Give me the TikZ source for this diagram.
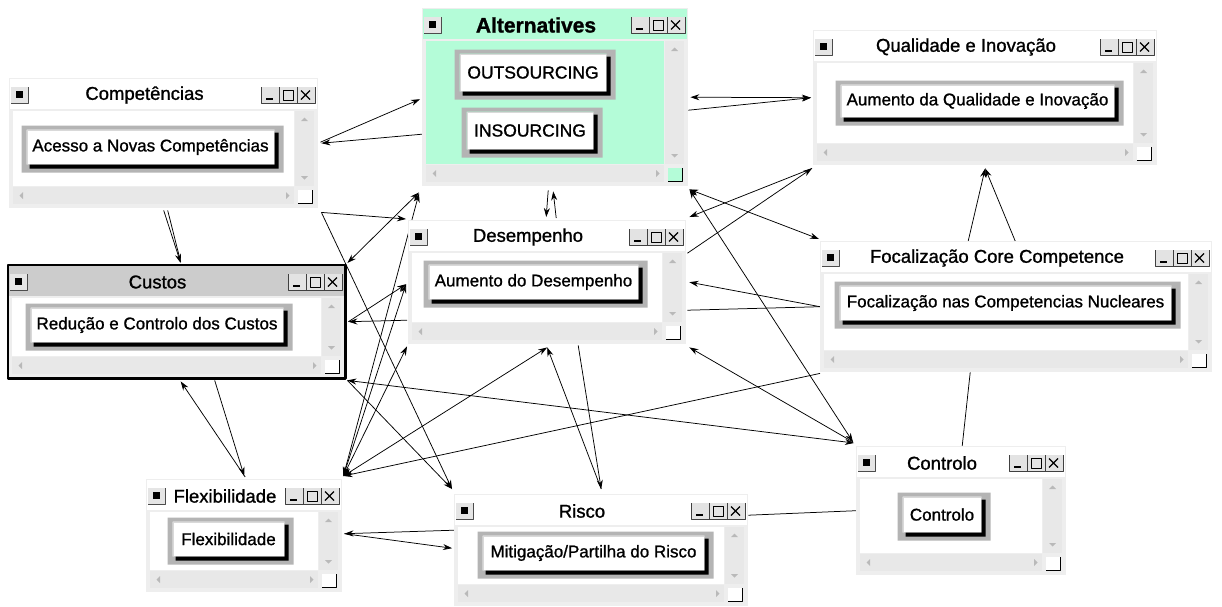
\documentclass[tikz,border=0pt]{standalone}
\usepackage{fontspec}
\setmainfont{Liberation Sans}
\newfontfamily\uifont{Liberation Sans}[FakeBold=1.1]
\usetikzlibrary{arrows.meta,calc}

\definecolor{winframe}{RGB}{238,238,238}
\definecolor{scrollbg}{RGB}{232,232,232}
\definecolor{mint}{RGB}{180,252,216}
\definecolor{selbar}{RGB}{204,204,204}
\definecolor{btnring}{RGB}{180,180,180}

% one node window: #1 name, #2 x, #3 y, #4 width, #5 height, #6 title, #7 bar, #8 body
\newcommand\uiwin[8]{%
  \begin{scope}[shift={(#2,#3)}]
    \node[inner sep=0pt,minimum width=#4pt,minimum height=#5pt,anchor=north west,
      fill=winframe] (#1) at (0,0) {};
    \fill[#7] (1,1) rectangle (#4-1,31);
    % menu icon
    \fill[gray!20] (2,9) rectangle (19,25);
    \draw[black!70] (2,25) -- (19,25) -- (19,9);
    \fill[black] (7,13) rectangle (14,20);
    % title
    \node[titletext] at ({(#4-38)/2},17) {#6};
    % min / max / close
    \fill[gray!22] (#4-57,9) rectangle (#4-3,25);
    \draw[black!75] (#4-57,9) -- (#4-57,25) -- (#4-3,25) -- (#4-3,9)
      (#4-39,9) -- (#4-39,25) (#4-21,9) -- (#4-21,25);
    \draw[line width=1.6pt] (#4-52,21) -- (#4-45,21);
    \draw[line width=1pt] (#4-35,12) rectangle (#4-25,22);
    \draw[line width=1.2pt] (#4-17,12.5) -- (#4-8,21.5) (#4-17,21.5) -- (#4-8,12.5);
    % body and scroll bars
    \fill[#8] (4,33) rectangle (#4-24,#5-22);
    \fill[scrollbg] (#4-23,33) rectangle (#4-4,#5-22);
    \fill[gray!55] (#4-17,43) -- (#4-10,43) -- (#4-13.5,39.5) -- cycle;
    \fill[gray!55] (#4-17,#5-32) -- (#4-10,#5-32) -- (#4-13.5,#5-28.5) -- cycle;
    \fill[scrollbg] (4,#5-21) rectangle (#4-24,#5-4);
    \fill[gray!55] (14,#5-16) -- (14,#5-9) -- (10.5,#5-12.5) -- cycle;
    \fill[gray!55] (#4-32,#5-16) -- (#4-32,#5-9) -- (#4-28.5,#5-12.5) -- cycle;
    \fill[#8] (#4-20,#5-18) rectangle (#4-6,#5-5);
    \draw[line width=1pt] (#4-20,#5-5) -- (#4-6,#5-5) -- (#4-6,#5-18);
  \end{scope}}

% raised state button: #1 name, #2 cx, #3 cy, #4 width, #5 height, #6 text
\newcommand\uibtn[6]{%
  \node[btnface,minimum width=#4pt,minimum height=#5pt] (#1) at (#2,#3) {#6};
  \fill[btnring,even odd rule] ($(#1.north west)+(-5,-4)$) rectangle ($(#1.south east)+(9,8)$)
    (#1.north west) rectangle (#1.south east);
  \fill[black] ($(#1.south west)+(3,0)$) -- ($(#1.south west)+(3,4)$) -- ($(#1.south east)+(4,4)$)
    -- ($(#1.north east)+(4,3)$) -- ($(#1.north east)+(0,3)$) -- (#1.south east) -- cycle;}

\begin{document}
\begin{tikzpicture}[x=1pt,y=-1pt,>={Stealth[length=9pt,width=6pt]},line join=round,
  link/.style={->,line width=0.75pt},
  both/.style={<->,line width=0.75pt},
  plain/.style={line width=0.75pt},
  titletext/.style={font=\uifont\fontsize{18.5}{20}\selectfont,inner sep=0pt},
  btnface/.style={fill=white,draw=gray!30,line width=1pt,inner sep=0pt,
    font=\uifont\fontsize{17}{19}\selectfont}]

  \useasboundingbox[fill=white] (0,0) rectangle (1222,606);

  % ===== windows are placed first only as named frames for the links =====
  \path (422,8) node[inner sep=0pt,minimum width=266pt,minimum height=178pt,anchor=north west] (alt) {}
        (9,78) node[inner sep=0pt,minimum width=309pt,minimum height=130pt,anchor=north west] (comp) {}
        (8,265) node[inner sep=0pt,minimum width=337pt,minimum height=113pt,anchor=north west] (cust) {}
        (408,220) node[inner sep=0pt,minimum width=278pt,minimum height=124pt,anchor=north west] (des) {}
        (813,30) node[inner sep=0pt,minimum width=344pt,minimum height=135pt,anchor=north west] (qual) {}
        (820,241) node[inner sep=0pt,minimum width=392pt,minimum height=131pt,anchor=north west] (foc) {}
        (146,479) node[inner sep=0pt,minimum width=196pt,minimum height=113pt,anchor=north west] (flex) {}
        (454,494) node[inner sep=0pt,minimum width=294pt,minimum height=112pt,anchor=north west] (risc) {}
        (856,446) node[inner sep=0pt,minimum width=210pt,minimum height=129pt,anchor=north west] (ctrl) {};

  %% ---------------------------------------------------------------
  %% LINKS (drawn under the windows)
  %% ---------------------------------------------------------------
  % Competencias
  \draw[link] ($(comp.east)+(2,-1)$) -- ($(alt.west)+(-2,2)$);
  \draw[link] ($(alt.west)+(0,37)$) -- ($(comp.east)+(3,0)$);
  \draw[link] ($(comp.south)+(0,2)$) -- ($(cust.north)+(4,-2)$);
  \draw[plain] ($(comp.south)+(4,2)$) -- ($(cust.north)+(4,-3)$);
  \draw[link] ($(comp.south east)+(3,4)$) -- ($(des.north west)+(-2,-1)$);
  \draw[link] ($(comp.south east)+(3,4)$) -- ($(risc.north west)+(-2,-5)$);
  % Custos
  \draw[both] ($(cust.north east)+(2,-2)$) -- ($(alt.south west)+(-3,6)$);
  \draw[link] ($(des.west)+(-1,38)$) -- ($(cust.east)+(3,0)$);
  \draw[link] ($(cust.east)+(3,0)$) -- ($(des.west)+(-2,2)$);
  \draw[link] ($(flex.north)+(1,-2)$) -- ($(cust.south)+(4,3)$);
  \draw[link] ($(cust.south)+(38,2)$) -- ($(flex.north)+(0,-3)$);
  \draw[link] ($(cust.south east)+(2,2)$) -- ($(risc.north west)+(-2,-5)$);
  \draw[both] ($(ctrl.north west)+(-2,-3)$) -- ($(cust.south east)+(2,2)$);
  % Alternatives / Desempenho
  \draw[link] ($(des.north)+(9,-2)$) -- ($(alt.south)+(-2,5)$);
  \draw[link] ($(alt.south)+(-7,4)$) -- ($(des.north)+(-1,-3)$);
  % Flexibilidade
  \draw[both] ($(flex.north east)+(1,-3)$) -- ($(alt.south west)+(-3,7)$);
  \draw[both] ($(flex.north east)+(1,-3)$) -- ($(des.west)+(-2,2)$);
  \draw[both] ($(flex.north east)+(1,-3)$) -- ($(des.south west)+(-1,2)$);
  \draw[both] ($(flex.north east)+(1,-3)$) -- ($(des.south)+(0,3)$);
  \draw[link] ($(foc.south west)+(0,1)$) -- ($(flex.north east)+(1,-3)$);
  \draw[link] ($(risc.west)+(0,-20)$) -- ($(flex.east)+(2,-2)$);
  \draw[link] ($(flex.east)+(2,-2)$) -- ($(risc.west)+(-2,-2)$);
  % Risco
  \draw[link] ($(des.south)+(31,1)$) -- ($(risc.north)+(0,-5)$);
  \draw[link] ($(risc.north)+(0,-5)$) -- ($(des.south)+(0,3)$);
  % Controlo
  \draw[both] ($(alt.south east)+(1,3)$) -- ($(ctrl.north west)+(-3,-4)$);
  \draw[link] ($(ctrl.north west)+(-3,-4)$) -- ($(des.south east)+(3,3)$);
  \draw[plain] ($(ctrl.north)+(1,0)$) -- ($(foc.south)+(-46,0)$);
  \draw[plain] (ctrl.west) -- ($(risc.east)+(0,-35)$);
  % Qualidade / Focalizacao
  \draw[both] ($(qual.west)+(-2,0)$) -- ($(alt.east)+(2,0)$);
  \draw[link] ($(alt.east)+(0,13)$) -- ($(qual.west)+(-2,0)$);
  \draw[both] ($(alt.south east)+(1,3)$) -- ($(foc.north west)+(-1,-2)$);
  \draw[link] ($(qual.south west)+(-1,3)$) -- ($(des.north east)+(3,-3)$);
  \draw[link] ($(des.east)+(1,-29)$) -- ($(qual.south west)+(-1,3)$);
  \draw[link] (foc.west) -- ($(des.east)+(3,0)$);
  \draw[plain] ($(des.east)+(1,28)$) -- (foc.west);
  \draw[link] ($(foc.north)+(-48,0)$) -- ($(qual.south)+(0,3)$);
  \draw[link] ($(foc.north)+(-1,0)$) -- ($(qual.south)+(0,3)$);

  %% ---------------------------------------------------------------
  %% WINDOWS
  %% ---------------------------------------------------------------
  \uiwin{altw}{422}{8}{266}{178}{\fontsize{21}{23}\selectfont\bfseries Alternatives}{mint}{mint}
  \uibtn{outs}{533}{72.5}{146}{37}{\fontsize{17.5}{19}\selectfont OUTSOURCING}
  \uibtn{ins}{530}{130.5}{126}{37}{\fontsize{17.5}{19}\selectfont INSOURCING}

  \uiwin{compw}{9}{78}{309}{130}{Competências}{white}{white}
  \uibtn{compb}{150.5}{147}{247}{34}{Acesso a Novas Competências}

  \uiwin{custw}{8}{265}{337}{113}{Custos}{selbar}{white}
  \draw[line width=2.4pt] (cust.north west) rectangle (cust.south east);
  \uibtn{custb}{157}{325}{252}{34}{Redução e Controlo dos Custos}

  \uiwin{desw}{408}{220}{278}{124}{Desempenho}{white}{white}
  \uibtn{desb}{533.5}{282}{209}{34}{Aumento do Desempenho}

  \uiwin{qualw}{813}{30}{344}{135}{Qualidade e Inovação}{white}{white}
  \uibtn{qualb}{977.5}{101}{273}{32}{Aumento da Qualidade e Inovação}

  \uiwin{focw}{820}{241}{392}{131}{Focalização Core Competence}{white}{white}
  \uibtn{focb}{1005.5}{303}{331}{34}{Focalização nas Competencias Nucleares}

  \uiwin{flexw}{146}{479}{196}{113}{Flexibilidade}{white}{white}
  \uibtn{flexb}{228.5}{539}{111}{34}{Flexibilidade}

  \uiwin{riscw}{454}{494}{294}{112}{Risco}{white}{white}
  \uibtn{riscb}{593.5}{553}{221}{34}{Mitigação/Partilha do Risco}

  \uiwin{ctrlw}{856}{446}{210}{129}{Controlo}{white}{white}
  \uibtn{ctrlb}{942}{514.5}{78}{35}{Controlo}

\end{tikzpicture}
\end{document}
